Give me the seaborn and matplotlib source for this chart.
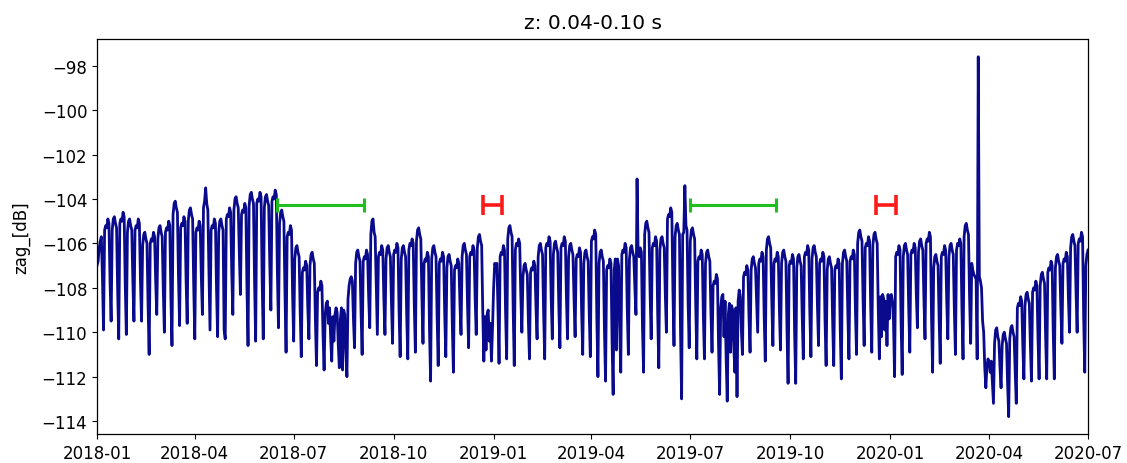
import matplotlib
matplotlib.use("Agg")
import matplotlib.pyplot as plt
import matplotlib.dates as mdates
import pandas as pd
import seaborn as sns

# Daily values (dB), 2018-01-01 onward, one row per week (Mon..Sun)
zag_2018a = [
    -107.0, -106.8, -106.2, -105.9, -105.7, -107.5, -109.9,
    -105.4, -105.2, -105.3, -104.9, -105.1, -107.7, -109.5,
    -105.4, -104.9, -104.8, -105.1, -105.3, -108.1, -110.3,
    -105.1, -104.9, -105.0, -104.6, -104.8, -107.9, -110.1,
    -105.5, -105.0, -104.9, -105.2, -105.4, -107.7, -109.5,
    -105.4, -105.2, -105.3, -104.9, -105.1, -107.7, -109.5,
    -106.1, -105.6, -105.5, -105.8, -106.0, -108.8, -111.0,
    -106.0, -105.8, -105.9, -105.5, -105.7, -107.7, -109.2,
    -105.8, -105.3, -105.2, -105.5, -105.7, -108.1, -110.0,
    -105.5, -105.3, -105.4, -105.0, -105.2, -108.4, -110.6,
    -104.7, -104.2, -104.1, -104.4, -104.6, -107.5, -109.7,
    -105.3, -105.1, -105.2, -104.8, -105.0, -107.7, -109.6,
    -105.0, -104.5, -104.4, -104.7, -104.9, -107.9, -110.3,
    -105.5, -105.3, -105.4, -105.0, -105.2, -107.5, -109.2,
    -104.4, -104.1, -103.5, -104.2, -104.5, -107.3, -109.9,
    -105.4, -105.2, -105.3, -104.9, -105.1, -108.1, -110.2,
    -105.5, -105.0, -104.9, -105.2, -105.4, -109.9, -110.3,
    -104.9, -104.7, -104.8, -104.4, -104.6, -107.3, -109.2,
    -104.5, -104.0, -103.9, -104.2, -104.4, -106.5, -108.3,
    -104.7, -104.5, -104.6, -104.2, -104.4, -108.0, -110.6,
    -104.3, -103.8, -103.7, -104.0, -104.2, -107.7, -110.4,
    -104.2, -104.0, -104.1, -103.7, -103.9, -107.7, -110.3,
    -104.4, -103.9, -103.8, -104.1, -104.3, -106.9, -109.0,
    -104.1, -103.9, -104.0, -103.6, -103.8, -107.3, -109.8,
    -105.1, -104.6, -104.5, -104.8, -105.0, -108.3, -110.9,
    -105.7, -105.5, -105.6, -105.2, -105.4, -108.3, -110.4,
]
zag_2018b = [
    -106.7, -106.2, -106.1, -106.4, -106.6, -109.1, -111.1,
    -107.3, -107.1, -107.2, -106.8, -107.0, -108.9, -110.3,
    -107.0, -106.5, -106.4, -106.7, -106.9, -109.5, -111.5,
    -108.2, -108.0, -108.1, -107.7, -107.9, -110.1, -111.7,
    -109.2, -108.7, -108.6, -109.6, -108.9, -110.2, -111.3,
    -109.3, -110.4, -109.2, -108.9, -109.1, -110.5, -111.6,
    -109.4, -108.9, -111.7, -109.0, -109.2, -110.8, -112.0,
    -108.5, -107.9, -107.6, -107.5, -107.7, -109.4, -110.7,
    -106.9, -106.4, -106.3, -106.6, -106.8, -109.1, -111.0,
    -106.8, -106.6, -106.7, -106.3, -106.5, -108.4, -109.8,
    -105.6, -105.0, -104.9, -105.5, -105.7, -108.0, -110.1,
    -106.6, -106.4, -106.5, -106.1, -106.3, -108.5, -110.1,
    -106.7, -106.2, -106.1, -106.4, -106.6, -108.7, -110.5,
    -106.5, -106.3, -106.4, -106.0, -106.2, -109.1, -111.1,
    -106.7, -106.2, -106.1, -106.4, -106.6, -109.2, -111.2,
    -106.3, -106.0, -106.1, -105.8, -106.0, -108.8, -110.9,
    -105.9, -105.4, -105.3, -105.6, -105.8, -108.4, -110.5,
    -106.9, -106.7, -106.8, -106.4, -106.6, -109.9, -112.2,
    -106.7, -106.2, -106.1, -106.4, -106.6, -109.3, -111.5,
    -106.9, -106.7, -106.8, -106.4, -106.6, -109.2, -111.1,
    -107.1, -106.6, -106.5, -106.8, -107.0, -109.7, -111.8,
    -107.2, -107.0, -107.1, -106.7, -106.9, -108.7, -110.1,
    -106.6, -106.1, -106.0, -106.3, -106.5, -108.8, -110.7,
    -106.6, -106.4, -106.5, -106.1, -106.3, -108.5, -110.1,
    -106.2, -105.7, -105.6, -105.9, -106.1, -109.0, -111.3,
    -109.3, -110.8, -109.2, -109.0, -110.4, -109.6, -111.3,
]
zag_2019a = [
    -109.8, -108.0, -106.9, -107.0, -106.9, -108.9, -111.4,
    -106.6, -106.4, -106.5, -106.1, -106.3, -109.1, -111.2,
    -105.8, -105.3, -105.2, -105.5, -105.7, -109.0, -111.5,
    -106.3, -106.0, -106.1, -105.8, -106.0, -108.3, -110.0,
    -107.5, -107.0, -106.9, -107.2, -107.4, -109.5, -111.2,
    -107.3, -107.1, -107.2, -106.8, -107.0, -108.9, -110.3,
    -106.6, -106.1, -106.0, -106.3, -106.5, -109.1, -111.2,
    -106.2, -106.0, -106.1, -105.7, -105.9, -108.5, -110.3,
    -106.5, -106.0, -105.9, -106.2, -106.4, -108.8, -110.7,
    -106.2, -106.0, -106.1, -105.7, -105.9, -108.4, -110.3,
    -106.6, -106.1, -106.0, -106.3, -106.5, -108.5, -110.2,
    -106.7, -106.5, -106.6, -106.2, -106.4, -109.1, -111.0,
    -106.9, -106.4, -106.3, -106.6, -106.8, -109.2, -111.1,
    -105.9, -105.7, -105.8, -105.4, -105.6, -109.4, -112.0,
    -106.9, -106.4, -106.3, -106.6, -106.8, -109.9, -112.2,
    -107.2, -107.0, -107.1, -106.7, -106.9, -110.4, -112.8,
    -107.2, -106.7, -110.8, -106.7, -107.0, -109.7, -111.8,
    -106.5, -106.3, -106.4, -106.0, -106.2, -109.0, -111.0,
    -106.7, -106.2, -106.1, -106.4, -106.6, -108.0, -109.2,
    -103.1, -106.5, -106.6, -106.2, -106.4, -109.8, -111.8,
    -105.6, -105.1, -105.0, -105.3, -105.5, -108.2, -110.3,
    -106.2, -106.0, -106.1, -105.7, -105.9, -109.2, -111.6,
    -106.3, -105.8, -105.7, -106.0, -106.2, -108.3, -110.0,
    -104.9, -104.7, -104.8, -104.4, -104.6, -108.1, -110.6,
    -105.7, -105.2, -105.1, -105.4, -105.6, -109.9, -113.0,
    -105.6, -105.5, -103.4, -105.2, -105.4, -108.7, -110.7,
]
zag_2019b = [
    -105.9, -105.4, -105.3, -105.6, -105.8, -108.8, -111.2,
    -106.8, -106.6, -106.7, -106.3, -106.5, -109.2, -111.2,
    -106.9, -106.4, -106.3, -106.6, -106.8, -109.1, -110.9,
    -107.9, -107.7, -107.8, -107.4, -107.6, -110.6, -112.8,
    -108.9, -108.4, -108.3, -110.2, -108.6, -111.2, -113.1,
    -109.2, -108.7, -110.9, -108.8, -109.0, -110.6, -111.8,
    -108.9, -112.9, -108.6, -108.1, -108.4, -109.9, -111.0,
    -107.5, -107.3, -107.4, -107.0, -107.2, -109.3, -110.9,
    -107.2, -106.7, -106.6, -106.9, -107.1, -108.6, -110.0,
    -106.9, -106.7, -106.8, -106.4, -106.6, -109.3, -111.3,
    -106.3, -105.8, -105.7, -106.0, -106.2, -108.6, -110.6,
    -106.9, -106.7, -106.8, -106.4, -106.6, -109.0, -110.8,
    -106.9, -106.4, -106.3, -106.6, -106.8, -109.9, -112.3,
    -107.0, -106.8, -106.9, -106.5, -106.7, -110.0, -112.3,
    -107.1, -106.6, -106.5, -106.8, -107.0, -109.3, -111.2,
    -106.6, -106.4, -106.5, -106.1, -106.3, -109.1, -111.1,
    -106.7, -106.2, -106.1, -106.4, -106.6, -108.8, -110.6,
    -106.9, -106.7, -106.8, -106.4, -106.6, -109.5, -111.5,
    -107.2, -106.7, -106.6, -106.9, -107.1, -109.5, -111.5,
    -107.2, -107.0, -107.1, -106.7, -106.9, -109.9, -112.1,
    -106.9, -106.4, -106.3, -106.6, -106.8, -109.2, -111.2,
    -106.8, -106.6, -106.7, -106.3, -106.5, -109.1, -111.0,
    -106.0, -105.5, -105.4, -105.7, -105.9, -108.5, -110.6,
    -106.2, -106.0, -106.1, -105.7, -105.9, -108.8, -110.9,
    -106.1, -105.6, -105.5, -105.8, -106.0, -109.0, -111.2,
    -108.4, -110.2, -108.3, -108.5, -109.9, -108.6, -110.6,
]
zag_2020a = [
    -108.3, -109.4, -108.4, -108.3, -108.6, -109.5, -112.0,
    -106.6, -106.4, -106.5, -106.1, -106.3, -109.6, -111.9,
    -106.6, -106.1, -106.0, -106.3, -106.5, -108.9, -110.9,
    -106.5, -106.3, -106.4, -106.0, -106.2, -108.3, -109.8,
    -106.4, -105.9, -105.8, -106.1, -106.3, -108.5, -110.3,
    -106.0, -105.8, -105.9, -105.5, -105.7, -109.3, -111.8,
    -107.1, -106.6, -106.5, -106.8, -107.0, -109.4, -111.4,
    -106.6, -106.4, -106.5, -106.1, -106.3, -108.6, -110.3,
    -106.6, -106.1, -106.0, -106.3, -106.5, -109.0, -111.0,
    -106.3, -106.0, -106.1, -105.8, -106.0, -109.0, -111.2,
    -105.7, -105.2, -105.1, -105.4, -105.6, -108.4, -110.5,
    -106.9, -107.2, -107.4, -107.5, -107.6, -111.2, -97.6,
    -107.5, -107.7, -108.0, -109.5, -110.0, -111.6, -112.5,
    -111.5, -111.2, -111.4, -111.8, -111.3, -112.3, -113.2,
    -110.5, -109.9, -109.8, -110.2, -110.4, -111.6, -112.5,
    -110.6, -110.1, -110.0, -110.3, -110.5, -112.3, -113.8,
    -110.3, -109.8, -109.7, -110.0, -110.2, -111.8, -113.2,
    -108.9, -108.7, -108.8, -108.4, -108.6, -110.6, -112.1,
    -108.8, -108.3, -108.2, -108.5, -108.7, -110.6, -112.2,
    -108.2, -108.0, -108.1, -107.7, -107.9, -110.3, -112.1,
    -107.9, -107.4, -107.3, -107.6, -107.8, -110.2, -112.1,
    -107.3, -107.1, -107.2, -106.8, -107.0, -110.0, -112.1,
    -107.1, -106.6, -106.5, -106.8, -107.0, -108.9, -110.5,
    -106.9, -106.7, -106.8, -106.4, -106.6, -108.5, -110.0,
    -106.2, -105.7, -105.6, -105.9, -106.1, -108.2, -110.0,
    -106.0, -105.8, -105.9, -105.5, -105.7, -109.3, -111.8,
    -107.0, -106.5, -106.3,
]

start_date = "2018-01-01"

# Period markers (start, end) drawn as capped horizontal bars
green_periods = [("2018-06-16", "2018-09-04"), ("2019-07-01", "2019-09-18")]
red_periods = [("2018-12-22", "2019-01-09"), ("2019-12-19", "2020-01-06")]
marker_level = -104.25

values = zag_2018a + zag_2018b + zag_2019a + zag_2019b + zag_2020a
dates = pd.date_range(start_date, periods=len(values), freq="D")
df = pd.DataFrame({"date": dates, "zag": values})

W, H = 1127, 464
fig = plt.figure(figsize=(W / 100, H / 100), dpi=100)
ax = fig.add_axes([97 / W, 1 - 435 / H, (1088 - 97) / W, (435 - 40) / H])

sns.lineplot(data=df, x="date", y="zag", ax=ax, color="#0a0a8c",
             linewidth=2.0, estimator=None)


def draw_periods(periods, color, lw, cap):
    for s, e in periods:
        s_num = mdates.date2num(pd.Timestamp(s))
        e_num = mdates.date2num(pd.Timestamp(e))
        mid = (s_num + e_num) / 2
        half = (e_num - s_num) / 2
        ax.errorbar([mid], [marker_level], xerr=[[half], [half]], fmt="none",
                    ecolor=color, elinewidth=lw, capsize=cap, capthick=lw,
                    zorder=3)


draw_periods(green_periods, "#1fbf1f", 2.2, 5.0)
draw_periods(red_periods, "#ff1a1a", 2.6, 7.0)

ax.set_xlim(dates[0], dates[-1])
ax.set_ylim(-114.58, -96.80)
ax.set_yticks(list(range(-114, -97, 2)))
ax.xaxis.set_major_locator(mdates.MonthLocator(bymonth=[1, 4, 7, 10]))
ax.xaxis.set_major_formatter(mdates.DateFormatter("%Y-%m"))
ax.set_xlabel("")
ax.set_ylabel("zag_[dB]", fontsize=12, labelpad=8)
ax.set_title("z: 0.04-0.10 s", fontsize=14.5, pad=8)
ax.tick_params(labelsize=12)
for sp in ax.spines.values():
    sp.set_color("black")
    sp.set_linewidth(0.9)

fig.savefig("out.png", dpi=100)
